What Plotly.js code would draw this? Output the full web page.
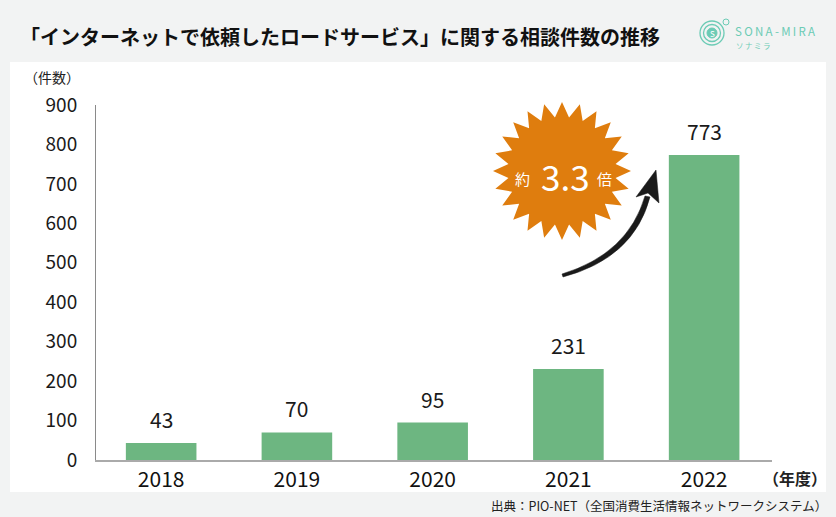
<!DOCTYPE html>
<html>
<head>
<meta charset="utf-8">
<script src="https://cdn.plot.ly/plotly-3.0.1.min.js"></script>
<style>html,body{margin:0;padding:0;background:#f2f3f3;}#chart{width:836px;height:517px;}</style>
</head>
<body>
<div id="chart"></div>
<script>
// ---- data ----
const years = ["2018", "2019", "2020", "2021", "2022"];
const counts = [43, 70, 95, 231, 773];
const yTicks = [0, 100, 200, 300, 400, 500, 600, 700, 800, 900];

const titleText = "「インターネットで依頼したロードサービス」に関する相談件数の推移";
const yUnit = "（件数）";
const xUnit = "（年度）";
const sourceText = "出典：PIO-NET（全国消費生活情報ネットワークシステム）";

// ---- layout helpers (pixel -> paper) ----
const W = 836, H = 517;
const M = {l: 96, r: 64, t: 105, b: 57};
const PW = W - M.l - M.r, PH = H - M.t - M.b;
const px = x => (x - M.l) / PW;
const py = y => (H - M.b - y) / PH;

const FONT = '"Noto Sans CJK JP", "Noto Sans", sans-serif';

function starPath(cx, cy, R, r, n) {
  let d = "";
  for (let i = 0; i < 2 * n; i++) {
    const a = -Math.PI / 2 + i * Math.PI / n;
    const rr = i % 2 === 0 ? R : r;
    const x = px(cx + rr * Math.cos(a));
    const y = py(cy + rr * Math.sin(a));
    d += (i === 0 ? "M" : "L") + x.toFixed(5) + "," + y.toFixed(5);
  }
  return d + "Z";
}
function p(x, y) { return px(x).toFixed(5) + "," + py(y).toFixed(5); }

const shapes = [
  // white panel
  {type: "rect", xref: "paper", yref: "paper", x0: px(10), x1: px(826), y0: py(492), y1: py(62),
   fillcolor: "#ffffff", line: {width: 0}, layer: "below"},
  // starburst
  {type: "path", xref: "paper", yref: "paper", path: starPath(562, 171, 69, 54, 24),
   fillcolor: "#df7d0e", line: {width: 0}},
  // curved arrow body (tapered)
  {type: "path", xref: "paper", yref: "paper",
   path: "M" + p(562, 274) + " Q" + p(628, 254) + " " + p(645, 196) +
         " L" + p(650, 197) + " Q" + p(634, 258) + " " + p(563, 277) + " Z",
   fillcolor: "#1a1a1a", line: {color: "#1a1a1a", width: 0.5}},
  // arrow head
  {type: "path", xref: "paper", yref: "paper",
   path: "M" + p(656, 170) + " L" + p(659, 203) + " L" + p(648, 193) + " L" + p(636, 197) + " Z",
   fillcolor: "#1a1a1a", line: {color: "#1a1a1a", width: 0.5}},
  // logo rings
  {type: "circle", xref: "paper", yref: "paper", x0: px(700), x1: px(724), y0: py(45), y1: py(21),
   line: {color: "#6ccbb5", width: 1.3}},
  {type: "circle", xref: "paper", yref: "paper", x0: px(703.5), x1: px(720.5), y0: py(41.5), y1: py(24.5),
   line: {color: "#6ccbb5", width: 1.3}},
  {type: "circle", xref: "paper", yref: "paper", x0: px(707), x1: px(717), y0: py(38), y1: py(28),
   fillcolor: "#6ccbb5", line: {color: "#6ccbb5", width: 1}},
  {type: "circle", xref: "paper", yref: "paper", x0: px(723), x1: px(729), y0: py(25), y1: py(19),
   line: {color: "#6ccbb5", width: 1}}
];

const annotations = [];
// bar value labels from data (category index on x)
years.forEach((yr, i) => {
  annotations.push({x: i, y: counts[i], xref: "x", yref: "y", text: String(counts[i]),
    showarrow: false, yanchor: "bottom", yshift: 7,
    font: {family: FONT, size: 21, color: "#1a1a1a"}});
});
annotations.push(
  {xref: "paper", yref: "paper", x: px(18), y: py(36), xanchor: "left", yanchor: "middle",
   text: "<b>" + titleText + "</b>", showarrow: false,
   font: {family: FONT, size: 20, color: "#111111"}},
  {xref: "paper", yref: "paper", x: px(52), y: py(77), xanchor: "center", yanchor: "middle",
   text: yUnit, showarrow: false, font: {family: FONT, size: 14, color: "#222222"}},
  {xref: "paper", yref: "paper", x: px(795), y: py(478), xanchor: "center", yanchor: "middle",
   text: "<b>" + xUnit + "</b>", showarrow: false, font: {family: FONT, size: 16, color: "#222222"}},
  {xref: "paper", yref: "paper", x: px(829), y: py(505), xanchor: "right", yanchor: "middle",
   text: sourceText, showarrow: false, font: {family: FONT, size: 12.5, color: "#222222"}},
  // starburst text
  {xref: "paper", yref: "paper", x: px(522), y: py(178), xanchor: "center", yanchor: "middle",
   text: "約", showarrow: false, font: {family: FONT, size: 15, color: "#ffffff"}},
  {xref: "paper", yref: "paper", x: px(565), y: py(175), xanchor: "center", yanchor: "middle",
   text: "3.3", showarrow: false, font: {family: FONT, size: 35, color: "#ffffff"}},
  {xref: "paper", yref: "paper", x: px(604), y: py(178), xanchor: "center", yanchor: "middle",
   text: "倍", showarrow: false, font: {family: FONT, size: 15, color: "#ffffff"}},
  // logo text
  {xref: "paper", yref: "paper", x: px(733), y: py(31), xanchor: "left", yanchor: "middle",
   text: "S\u2009O\u2009N\u2009A\u2009-\u2009M\u2009I\u2009R\u2009A", showarrow: false,
   font: {family: FONT, size: 11.5, color: "#6ccbb5"}},
  {xref: "paper", yref: "paper", x: px(734), y: py(45), xanchor: "left", yanchor: "middle",
   text: "ソ\u2009ナ\u2009ミ\u2009ラ", showarrow: false,
   font: {family: FONT, size: 7.5, color: "#6ccbb5"}},
  {xref: "paper", yref: "paper", x: px(712), y: py(33), xanchor: "center", yanchor: "middle",
   text: "S", showarrow: false, font: {family: FONT, size: 8, color: "#ffffff"}}
);

const trace = {
  type: "bar", x: years, y: counts, width: 0.52,
  marker: {color: "#6db681", line: {width: 0}},
  hoverinfo: "skip"
};

const layout = {
  width: W, height: H,
  margin: {l: M.l, r: M.r, t: M.t, b: M.b, pad: 0},
  paper_bgcolor: "#f2f3f3",
  plot_bgcolor: "rgba(0,0,0,0)",
  showlegend: false,
  font: {family: FONT},
  xaxis: {type: "category", range: [-0.48, 4.5], showline: true, linecolor: "#aaaaaa", linewidth: 2,
          showgrid: false, zeroline: false, ticks: "", ticklabelstandoff: 0,
          tickfont: {family: FONT, size: 21, color: "#111111"}, fixedrange: true},
  yaxis: {range: [0, 900], tickvals: yTicks, ticktext: yTicks.map(String), showline: true,
          linecolor: "#8a8a8a", linewidth: 1, showgrid: false, zeroline: false, ticks: "",
          ticklabelstandoff: 14,
          tickfont: {family: FONT, size: 19, color: "#1a1a1a"}, fixedrange: true},
  shapes: shapes,
  annotations: annotations
};

Plotly.newPlot("chart", [trace], layout, {displayModeBar: false, staticPlot: true});
</script>
</body>
</html>
